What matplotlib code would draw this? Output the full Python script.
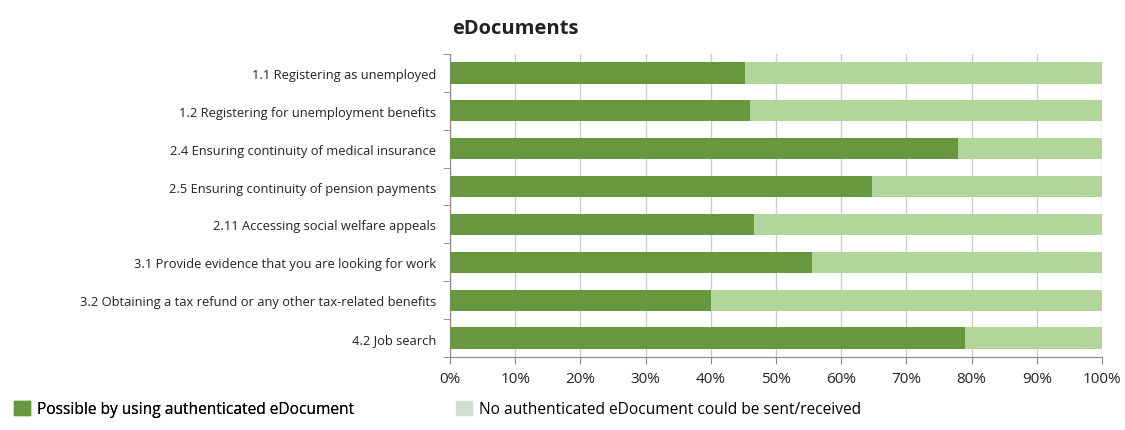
import matplotlib.pyplot as plt
from matplotlib.patches import Patch
from matplotlib.ticker import FixedLocator, PercentFormatter

plt.rcParams["font.family"] = ["Open Sans", "DejaVu Sans"]

categories = [
    "1.1 Registering as unemployed",
    "1.2 Registering for unemployment benefits",
    "2.4 Ensuring continuity of medical insurance",
    "2.5 Ensuring continuity of pension payments",
    "2.11 Accessing social welfare appeals",
    "3.1 Provide evidence that you are looking for work",
    "3.2 Obtaining a tax refund or any other tax-related benefits",
    "4.2 Job search",
]
possible = [45.3, 46.0, 77.9, 64.7, 46.6, 55.5, 40.1, 79.0]
not_possible = [100 - v for v in possible]

DARK = "#67983f"
LIGHT = "#b2d59b"
LEGEND_LIGHT = "#cfe0d0"
GRID = "#cccccc"

fig = plt.figure(figsize=(11.25, 4.31), dpi=100)
ax = fig.add_axes([0.4, 0.1694, 0.5796, 0.703])

y = list(range(len(categories)))
ax.barh(y, possible, height=0.56, color=DARK, zorder=3)
ax.barh(y, not_possible, left=possible, height=0.56, color=LIGHT, zorder=3)

ax.set_ylim(len(categories) - 0.5, -0.5)
ax.set_xlim(0, 100)
ax.set_yticks(y)
ax.set_yticklabels(categories, fontsize=9.3, color="#222222")
ax.yaxis.set_minor_locator(FixedLocator([i - 0.5 for i in range(len(categories) + 1)]))
ax.tick_params(axis="y", which="major", length=0, pad=10)
ax.tick_params(axis="y", which="minor", length=5, color="#888888")
ax.set_xticks(range(0, 101, 10))
ax.xaxis.set_major_formatter(PercentFormatter(decimals=0))
ax.tick_params(axis="x", length=5, pad=5, color="#888888", labelsize=11, labelcolor="#222222")
ax.grid(axis="x", color=GRID, linewidth=1, zorder=0)

for side in ["top", "right"]:
    ax.spines[side].set_visible(False)
for side in ["left", "bottom"]:
    ax.spines[side].set_color("#888888")

fig.text(0.402, 0.933, "eDocuments", fontsize=14.5, fontweight="bold", color="#222222", va="center")

leg1 = fig.legend(handles=[Patch(color=DARK, label="Possible by using authenticated eDocument")],
                  loc="center left", bbox_to_anchor=(0.0, 0.049), frameon=False,
                  fontsize=11.2, handlelength=1.0, handleheight=1.0, handletextpad=0.5)
leg2 = fig.legend(handles=[Patch(color=LEGEND_LIGHT, label="No authenticated eDocument could be sent/received")],
                  loc="center left", bbox_to_anchor=(0.393, 0.049), frameon=False,
                  fontsize=11.2, handlelength=1.0, handleheight=1.0, handletextpad=0.5)
fig.add_artist(leg1)

fig.savefig("out.png", dpi=100)
